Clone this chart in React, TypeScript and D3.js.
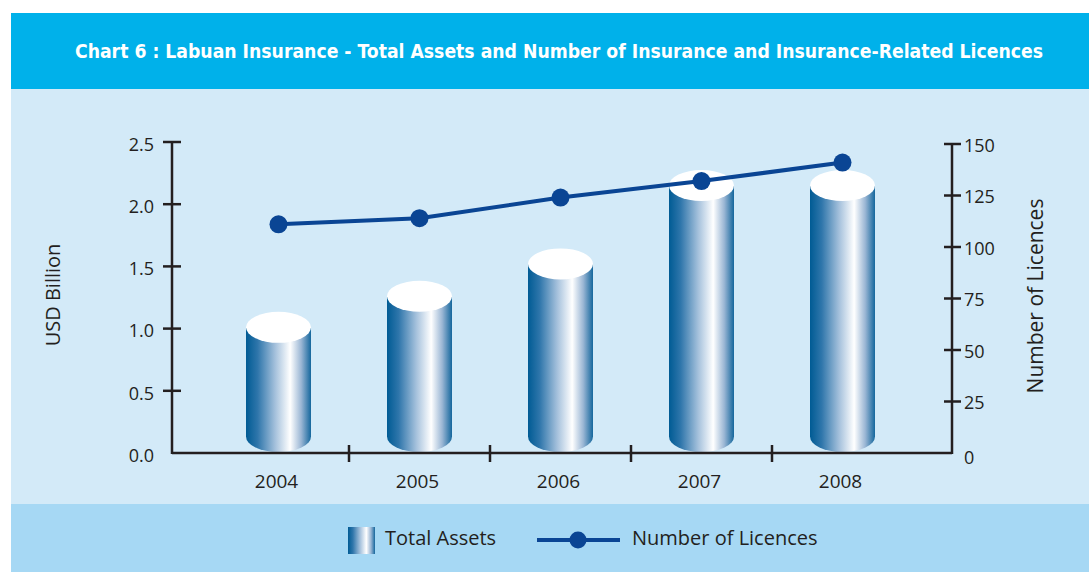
import * as d3 from "d3";

const years = ["2004", "2005", "2006", "2007", "2008"];
const totalAssets = [1.01, 1.26, 1.52, 2.15, 2.15];
const licences = [111, 114, 124, 132, 141];
const leftTicks = [0, 0.5, 1, 1.5, 2, 2.5];
const rightTicks = [0, 25, 50, 75, 100, 125, 150];

const W = 1089;
const H = 572;
const axisColor = "#231f20";
const lineColor = "#0a4594";
const font = "'Open Sans', 'Noto Sans', sans-serif";

const App = () => {
  const x = d3.scaleBand().domain(years).range([208, 913]).padding(0);
  const yL = d3.scaleLinear().domain([0, 2.5]).range([453, 142]);
  const yR = d3.scaleLinear().domain([0, 150]).range([453, 144]);

  const rx = 32.5;
  const ry = 15.5;
  const cx = (d: string) => (x(d) as number) + x.bandwidth() / 2;

  const line = d3
    .line<number>()
    .x((_, i) => cx(years[i]))
    .y((d) => yR(d));

  const left = 172;
  const right = 952;
  const base = yL(0);

  return (
    <svg
      width={W}
      height={H}
      style={{ position: "absolute", left: 0, top: 0, display: "block" }}
    >
      <defs>
        <linearGradient id="cyl" x1="0" x2="1" y1="0" y2="0">
          <stop offset="0%" stopColor="#005b94" />
          <stop offset="18%" stopColor="#2f76ab" />
          <stop offset="45%" stopColor="#a5c1dc" />
          <stop offset="68%" stopColor="#ffffff" />
          <stop offset="85%" stopColor="#9ab6d4" />
          <stop offset="100%" stopColor="#15679d" />
        </linearGradient>
      </defs>

      {/* backgrounds */}
      <rect x={11} y={13} width={W - 11} height={76} fill="#00b1ea" />
      <rect x={11} y={89} width={W - 11} height={415} fill="#d3eaf8" />
      <rect x={11} y={504} width={W - 11} height={H - 504} fill="#a6d8f4" />

      <text
        x={559}
        y={58}
        textAnchor="middle"
        fill="#ffffff"
        fontFamily="'DejaVu Sans Condensed', 'DejaVu Sans', sans-serif"
        fontWeight="bold"
        fontSize={20}
        textLength={968}
        lengthAdjust="spacingAndGlyphs"
      >
        Chart 6 : Labuan Insurance - Total Assets and Number of Insurance and Insurance-Related Licences
      </text>

      {/* cylinders */}
      {years.map((yr, i) => {
        const c = cx(yr);
        const yt = yL(totalAssets[i]);
        const yb = base - ry - 1;
        const p = `M${c - rx},${yt} L${c - rx},${yb} A${rx},${ry} 0 0 0 ${c + rx},${yb} L${c + rx},${yt} Z`;
        return (
          <g key={yr}>
            <path d={p} fill="url(#cyl)" />
            <ellipse cx={c} cy={yt} rx={rx} ry={ry} fill="#ffffff" />
          </g>
        );
      })}

      {/* axes */}
      <g stroke={axisColor} strokeWidth={2.5} fill="none">
        <line x1={left} x2={left} y1={yL(2.5)} y2={base + 1} />
        <line x1={right} x2={right} y1={yR(150)} y2={base + 1} />
        <line x1={left} x2={right} y1={base} y2={base} />
        {leftTicks.slice(1).map((t) => (
          <line key={t} x1={left - 9} x2={left + 9} y1={yL(t)} y2={yL(t)} />
        ))}
        {rightTicks.slice(1).map((t) => (
          <line key={t} x1={right - 8} x2={right + 9} y1={yR(t)} y2={yR(t)} />
        ))}
        {years.slice(1).map((yr) => (
          <line
            key={yr}
            x1={x(yr) as number}
            x2={x(yr) as number}
            y1={base - 8}
            y2={base + 9}
          />
        ))}
      </g>

      <g fontFamily={font} fontSize={18} fill={axisColor}>
        {leftTicks.map((t) => (
          <text key={t} x={154} y={yL(t) + 4} textAnchor="end" dominantBaseline="middle">
            {d3.format(".1f")(t)}
          </text>
        ))}
        {rightTicks.map((t) => (
          <text
            key={t}
            x={964}
            y={t === 0 ? yR(t) + 6 : yR(t) + 3}
            textAnchor="start"
            dominantBaseline="middle"
          >
            {t}
          </text>
        ))}
        {years.map((yr) => (
          <text
            key={yr}
            x={cx(yr) - 2}
            y={483}
            textAnchor="middle"
            dominantBaseline="middle"
            fontSize={19}
          >
            {yr}
          </text>
        ))}
        <text
          transform="translate(55,295) rotate(-90)"
          textAnchor="middle"
          dominantBaseline="middle"
          fontSize={20}
        >
          USD Billion
        </text>
        <text
          transform="translate(1037,296) rotate(-90)"
          textAnchor="middle"
          dominantBaseline="middle"
          fontSize={21}
        >
          Number of Licences
        </text>
      </g>

      {/* licences line */}
      <path d={line(licences) ?? ""} fill="none" stroke={lineColor} strokeWidth={4} />
      {licences.map((v, i) => (
        <circle key={i} cx={cx(years[i])} cy={yR(v)} r={9} fill={lineColor} />
      ))}

      {/* legend */}
      <rect x={348} y={527} width={27} height={27} fill="url(#cyl)" />
      <text x={385} y={540} fontFamily={font} fontSize={20} fill={axisColor} dominantBaseline="middle">
        Total Assets
      </text>
      <line x1={537} x2={620} y1={540} y2={540} stroke={lineColor} strokeWidth={4} />
      <circle cx={578} cy={540} r={8.5} fill={lineColor} />
      <text x={632} y={540} fontFamily={font} fontSize={20} fill={axisColor} dominantBaseline="middle">
        Number of Licences
      </text>
    </svg>
  );
};

export default App;
